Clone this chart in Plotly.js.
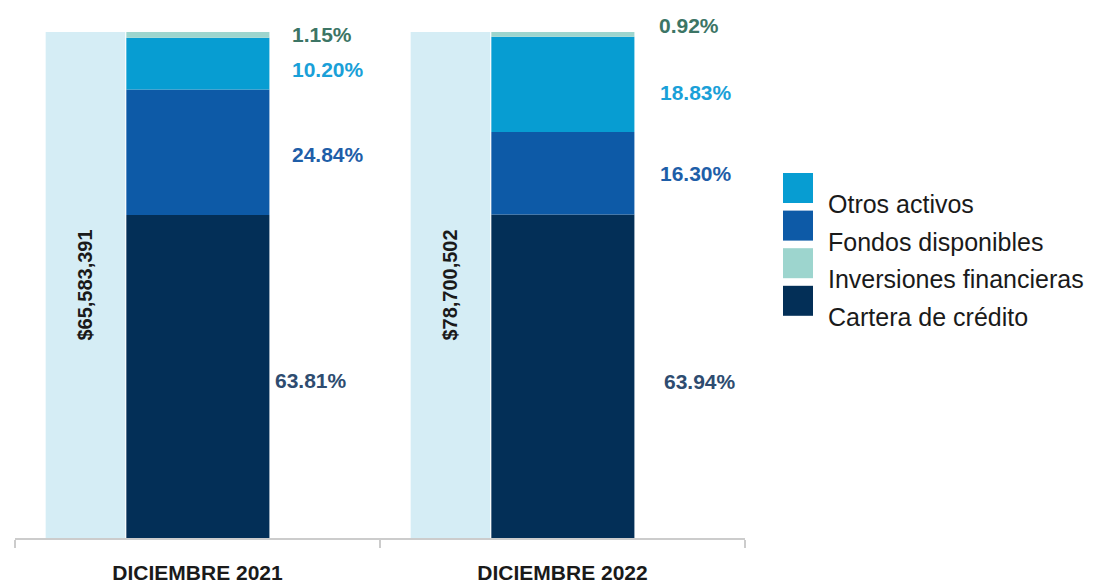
<!DOCTYPE html>
<html>
<head>
<meta charset="utf-8">
<script src="https://cdn.plot.ly/plotly-3.0.1.min.js"></script>
<style>html,body{margin:0;padding:0;background:#fff;}#chart{width:1101px;height:587px;}</style>
</head>
<body>
<div id="chart"></div>
<script>
// ---- data ----
const periods = ["DICIEMBRE 2021", "DICIEMBRE 2022"];
const totals = ["$65,583,391", "$78,700,502"];
const totalShare = [100, 100];
// stack order bottom -> top
const seriesNames = ["Cartera de crédito", "Fondos disponibles", "Otros activos", "Inversiones financieras"];
const carteraCredito = [63.81, 63.94];
const fondosDisponibles = [24.84, 16.30];
const otrosActivos = [10.20, 18.83];
const inversionesFinancieras = [1.15, 0.92];
const legendOrder = ["Otros activos", "Fondos disponibles", "Inversiones financieras", "Cartera de crédito"];

// ---- styles ----
const seriesValues = [carteraCredito, fondosDisponibles, otrosActivos, inversionesFinancieras];
const barColors = ["#032f57", "#0d5aa7", "#079dd2", "#9dd5ce"];
const labelColors = ["#2e4c70", "#1e5ea8", "#1aa0d8", "#3c7565"];
const boldFont = "Liberation Sans, Arial, sans-serif";
const regular = "Liberation Sans, Arial, sans-serif";
// label placement tweaks (px) per series, per period
const labelDx = [[75, 99], [92, 95], [92, 95], [92, 94]];
const labelDy = [[-4, -5], [-2, 0], [-6, -8], [0, 9]];

const STACK_OFF = -0.195, STACK_W = 0.392;
const TOTAL_OFF = -0.416, TOTAL_W = 0.218;

const traces = [];
traces.push({
  type: "bar", x: periods, y: totalShare, base: 0,
  offset: TOTAL_OFF, width: TOTAL_W,
  marker: {color: "#d5edf5", line: {width: 0}},
  text: totals, textposition: "inside", textangle: -90,
  insidetextanchor: "middle", constraintext: "none",
  textfont: {family: boldFont, size: 20, color: "#1a1a1a", weight: "bold"},
  hoverinfo: "skip", showlegend: false
});

const cum = periods.map(() => 0);
const annotations = [];
seriesValues.forEach((vals, s) => {
  const base = cum.slice();
  traces.push({
    type: "bar", name: seriesNames[s], x: periods, y: vals, base: base,
    offset: STACK_OFF, width: STACK_W,
    marker: {color: barColors[s], line: {width: 0}},
    showlegend: false
  });
  vals.forEach((v, i) => {
    annotations.push({
      x: periods[i], y: base[i] + v / 2, xref: "x", yref: "y",
      text: v.toFixed(2) + "%", showarrow: false,
      xanchor: "left", yanchor: "middle",
      xshift: labelDx[s][i], yshift: labelDy[s][i],
      font: {family: boldFont, size: 21, color: labelColors[s], weight: "bold"}
    });
    cum[i] += v;
  });
});

// custom legend (large square swatches, text offset below)
const shapes = [];
const plotL = 15, plotR = 745, plotT = 32, plotB = 538;
const px2x = p => (p - plotL) / (plotR - plotL);
const px2y = p => (plotB - p) / (plotB - plotT);
legendOrder.forEach((name, k) => {
  const s = seriesNames.indexOf(name);
  const top = 173 + 37.6 * k;
  shapes.push({
    type: "rect", xref: "paper", yref: "paper",
    x0: px2x(783), x1: px2x(813), y0: px2y(top + 30), y1: px2y(top),
    fillcolor: barColors[s], line: {width: 0}
  });
  annotations.push({
    xref: "paper", yref: "paper", x: px2x(826), y: px2y(top + 31),
    text: name, showarrow: false, xanchor: "left", yanchor: "middle",
    font: {family: regular, size: 25, color: "#1a1a1a"}
  });
});

const layout = {
  width: 1101, height: 587,
  margin: {l: plotL, r: 1101 - plotR, t: plotT, b: 587 - plotB},
  paper_bgcolor: "#fff", plot_bgcolor: "#fff",
  barmode: "overlay",
  showlegend: false,
  xaxis: {
    type: "category", range: [-0.5, 1.5],
    showline: true, linecolor: "#cccccc", linewidth: 2,
    ticks: "outside", tickson: "boundaries", ticklen: 8, tickwidth: 2, tickcolor: "#cccccc",
    showgrid: false, zeroline: false,
    tickfont: {family: boldFont, size: 21, color: "#1a1a1a", weight: "bold"},
    ticklabelstandoff: 15
  },
  yaxis: {range: [0, 100], visible: false, showgrid: false, zeroline: false},
  annotations: annotations,
  shapes: shapes
};

Plotly.newPlot("chart", traces, layout, {staticPlot: true, displayModeBar: false});
</script>
</body>
</html>
